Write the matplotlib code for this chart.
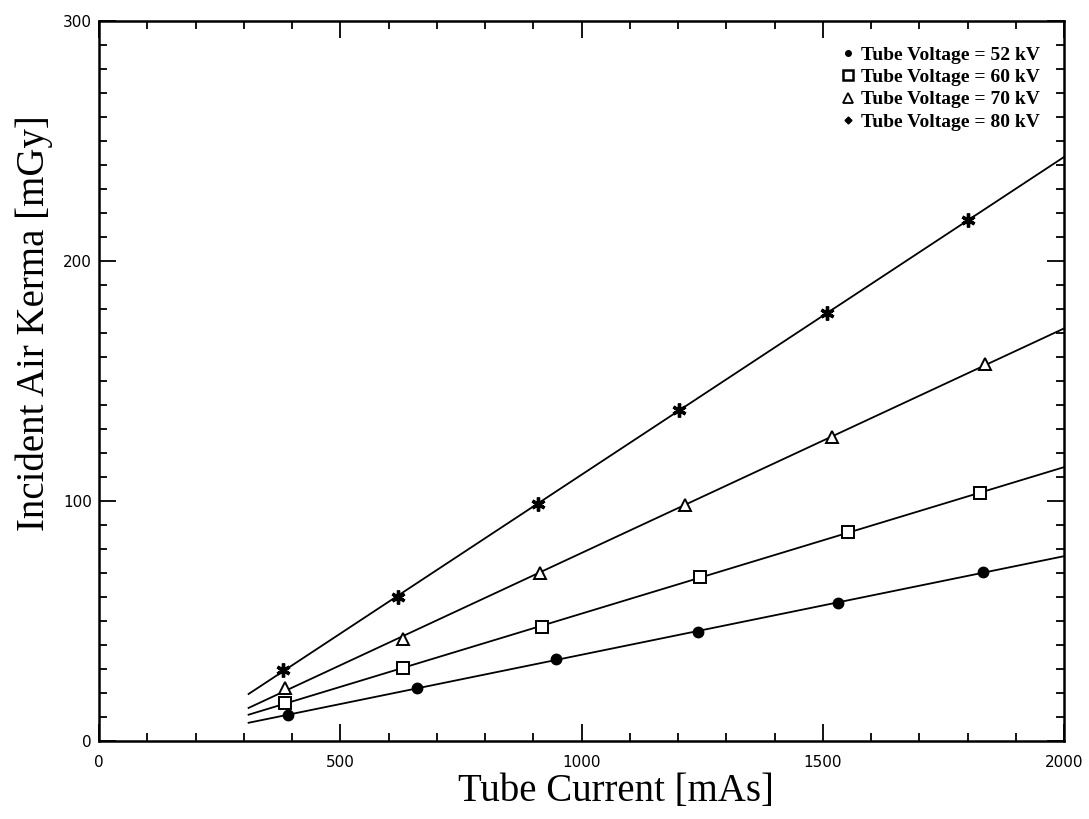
import numpy as np
import matplotlib
matplotlib.use("Agg")
import matplotlib.pyplot as plt
from matplotlib.lines import Line2D
from matplotlib.ticker import MultipleLocator

# Tube current (mAs) and measured incident air kerma (mGy) per tube voltage
mas_52 = [392, 659, 947, 1242, 1532, 1832]
kerma_52 = [10.8, 22.1, 34.2, 45.4, 57.5, 70.4]

mas_60 = [385, 630, 918, 1246, 1552, 1826]
kerma_60 = [15.8, 30.4, 47.5, 68.3, 87.1, 103.3]

mas_70 = [385, 630, 914, 1215, 1519, 1836]
kerma_70 = [22.1, 42.5, 70.0, 98.3, 126.7, 157.1]

mas_80 = [381, 620, 910, 1202, 1509, 1801]
kerma_80 = [29.6, 60.0, 98.75, 137.9, 178.3, 217.1]

labels = ["Tube Voltage = 52 kV", "Tube Voltage = 60 kV",
          "Tube Voltage = 70 kV", "Tube Voltage = 80 kV"]

x_ticks = [0, 500, 1000, 1500, 2000]
y_ticks = [0, 100, 200, 300]

fit_start, fit_end = 310, 2000

plt.rcParams["font.family"] = ["DejaVu Sans"]

fig = plt.figure(figsize=(10.89, 8.19), dpi=100)
ax = fig.add_axes([99 / 1089, 1 - 741 / 819, 965 / 1089, 720 / 819])

series = [
    (mas_52, kerma_52, dict(marker="o", markersize=7.5, markerfacecolor="black")),
    (mas_60, kerma_60, dict(marker="s", markersize=8, markerfacecolor="white", markeredgewidth=1.4)),
    (mas_70, kerma_70, dict(marker="^", markersize=8, markerfacecolor="white", markeredgewidth=1.4)),
    (mas_80, kerma_80, dict(marker=(6, 2, 0), markersize=10, markeredgewidth=2.4)),
]

# Straight-line fits drawn over the tube-current range, measured points on top
xs = np.linspace(fit_start, fit_end, 200)
for mas, kerma, style in series:
    coef = np.polyfit(mas, kerma, 1)
    ax.plot(xs, np.polyval(coef, xs), color="black", lw=1.3, zorder=2)
    ax.plot(mas, kerma, linestyle="none", color="black",
            markeredgecolor="black", zorder=3, **style)

ax.set_xlim(0, 2000)
ax.set_ylim(0, 300)
ax.set_xticks(x_ticks)
ax.set_yticks(y_ticks)
ax.xaxis.set_minor_locator(MultipleLocator(100))
ax.yaxis.set_minor_locator(MultipleLocator(10))

for s in ax.spines.values():
    s.set_linewidth(1.8)

ax.tick_params(which="both", direction="in", top=True, right=True,
               width=1.3, colors="black")
ax.tick_params(which="major", length=12)
ax.tick_params(which="minor", length=6)
ax.tick_params(axis="x", which="major", pad=10, labelsize=11)
ax.tick_params(axis="y", which="major", pad=5, labelsize=11)

label_font = dict(family="Liberation Serif", size=28)
ax.set_xlabel("Tube Current [mAs]", fontdict=label_font)
ax.set_ylabel("Incident Air Kerma [mGy]", fontdict=label_font)
ax.xaxis.set_label_coords(0.536, -0.044)
ax.yaxis.set_label_coords(-0.048, 0.58)

handles = [
    Line2D([], [], linestyle="none", marker="o", markersize=4, color="black"),
    Line2D([], [], linestyle="none", marker="s", markersize=6.5,
           markerfacecolor="white", markeredgecolor="black", markeredgewidth=1.8),
    Line2D([], [], linestyle="none", marker="^", markersize=7,
           markerfacecolor="white", markeredgecolor="black", markeredgewidth=1.3),
    Line2D([], [], linestyle="none", marker="D", markersize=3.5, color="black"),
]
ax.legend(handles, labels, loc="upper right", bbox_to_anchor=(0.975, 0.965),
          frameon=False, borderpad=0, borderaxespad=0, handlelength=0.6,
          handletextpad=0.35, labelspacing=0.24,
          prop=dict(family="Liberation Serif", weight="bold", size=14))

fig.savefig("out.png", dpi=100)
